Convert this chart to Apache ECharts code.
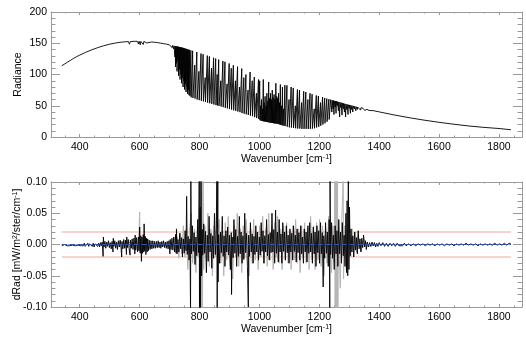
<!DOCTYPE html>
<html><head><meta charset="utf-8">
<script src="https://cdn.jsdelivr.net/npm/echarts@6/dist/echarts.min.js"></script>
<style>html,body{margin:0;padding:0;background:#fff}#c{width:526px;height:341px}</style>
</head><body><div id="c"></div>
<script>
// ---------- data ----------
const xTickLabels = [400,600,800,1000,1200,1400,1600,1800];
const xMinorTicks = [350,400,450,500,550,600,650,700,750,800,850,900,950,1000,1050,1100,1150,1200,1250,1300,1350,1400,1450,1500,1550,1600,1650,1700,1750,1800,1850];

// Radiance spectrum [wavenumber, radiance]
const radWarm = [[340,114],[350,117],[360,120],[370,123],[380,126],[390,128.7],[400,131],[420,135.5],[440,139.5],[460,143],[480,146],[500,148.5],[520,150.5],[540,151.8],[552,152.4],[555,149.5],[557,152.5],[563,152.6],[566,148.5],[569,152.7],[578,153],[582,150.5],[585,153.1],[592,153.2],[596,149],[598,153.2],[602,147.5],[604,153],[607,150],[609,153],[612,148],[614,152.8],[620,152.6],[624,150.5],[627,152.4],[640,152],[650,151.6],[660,151],[670,150.2],[680,149.4],[690,148.5],[700,147.4],[706,146.7],[708,143],[710,146.4],[713,141],[715,146]];

const radLines = [[717,145.5],[718,128],[719,145.3],[720,112],[721,145.2],[723,118],[724,145],[725,105],[726,144.8],[728,122],[729,144.5],[730,98],[731,144.3],[733,108],[734,144],[735,92],[736,143.7],[738,100],[739,143.4],[740,86],[741,143],[743,95],[744,142.8],[745,80],[746,142.5],[748,90],[749,142],[750,76],[751,141.6],[753,85],[754,141.2],[755,72],[756,141],[758,80],[759,140.4],[760,69],[761,140],[763,75],[764,139.7],[765,67],[766,139.4],[768,66],
[770,64],[771,138.6],[772,63.5],[776,63],[777,137.9],[778,62.5],[783,62],[784,115],[785,61.5],[790,60.5],[791,136],[792,60],[797,59.5],[798,105],[799,59],[804,58.5],[805,133.5],[806,58],[811,57.5],[812,132.4],[813,57],[818,56.5],[819,95],[820,56],[825,55.5],[826,130.2],[827,55],[832,54.5],[833,128.9],[834,54],[839,53.5],[840,110],[841,53],[846,52.5],[847,126.8],[848,52],[853,51.5],[854,125.5],[855,51],[858,50.8],[859,100],[860,50.5],[863,50],[864,123.8],[865,49.8],[870,49],[871,90],[872,48.8],[877,48],[878,121.5],[879,47.8],[884,47],[885,120.3],[886,46.8],[891,46],[892,85],[893,45.8],[898,45],[899,117.6],[900,44.8],
[905,44],[906,110],[907,43.8],[912,43],[913,114.8],[914,42.8],[919,42],[920,90],[921,41.8],[926,41],[927,112.6],[928,40.8],[933,40],[934,80],[935,39.8],[940,38.5],[941,109.5],[942,38.3],[947,37.5],[948,95],[949,37.3],[954,36.5],[955,100],[956,36.3],[961,35.5],[962,75],[963,35.3],[968,34.5],[969,104],[970,34.3],[975,33.5],[976,90],[977,33.3],[982,32],[983,96],[984,31.8],[989,30.5],[990,70],[991,30.3],[996,29],[997,92],[998,28.8],
[1000,27],[1001,90],[1002,27],[1004,50],[1005,26],[1007,60],[1008,26],[1010,45],[1011,25.5],[1013,92],[1014,25],[1016,55],[1017,25],[1019,65],[1020,24.5],[1022,50],[1023,24],[1025,70],[1026,24],[1028,58],[1029,23.5],[1031,88],[1032,23.5],[1034,62],[1035,23],[1037,70],[1038,23],[1040,60],[1041,22.5],[1043,75],[1044,22.5],[1046,63],[1047,22],[1049,68],[1050,22],[1052,60],[1053,21.5],[1055,86],[1056,21.5],[1058,65],[1059,21],[1061,62],[1062,21],[1064,70],[1065,20.5],[1067,55],[1068,20],[1070,84],[1071,19.5],[1074,50],[1075,19],[1077,80],[1078,18.5],[1081,45],[1082,18],
[1085,83],[1086,17.5],[1091,17],[1092,82.5],[1093,16.5],[1098,16],[1099,60],[1100,15.5],[1105,15],[1106,80],[1107,15],[1112,14.5],[1113,78.5],[1114,14.5],[1119,14],[1120,50],[1121,14],[1126,13.5],[1127,76],[1128,13.5],[1133,13.5],[1134,75],[1135,13.5],[1140,13],[1141,55],[1142,13],[1147,13],[1148,73],[1149,13],[1154,13],[1155,72],[1156,13],[1161,13],[1162,60],[1163,13],[1168,13],[1169,70],[1170,13],[1175,13.5],[1176,68.5],[1177,13.5],[1182,14],[1183,45],[1184,14],[1189,15],[1190,66.5],[1191,15.2],[1196,16],[1197,65.5],[1198,16.3],[1203,17.5],[1204,55],[1205,18],[1210,19.5],[1211,63.8],[1212,20],[1217,21.5],[1218,62.5],[1219,22],[1224,24],[1225,61.5],[1226,24.5],[1231,27],[1232,60.5],[1233,28],[1237,31],[1238,59.8],
[1242,40],[1243,59],[1246,45],[1247,58.5],[1249,36],[1250,58],[1253,48],[1254,57.5],[1256,38],[1257,57.3],[1260,50],[1261,56.6],[1264,42],[1265,56],[1268,32],[1269,55.5],[1272,47],[1273,55],[1276,35],[1277,54.5],[1280,45],[1281,53.8],[1284,40],[1285,53.3],[1288,32],[1289,52.7],[1292,44],[1293,52.2],[1296,36],[1297,51.7],[1300,46],[1301,51.3],[1304,38],[1305,50.8],[1308,44],[1309,50.3],[1312,40],[1313,49.8],[1317,45],[1318,49.2],[1322,42],[1323,48.6],[1327,44],[1328,48],[1332,46],[1333,47.4],[1338,43],[1339,46.8],[1345,44],[1346,46],[1352,42.5],[1353,45],[1358,43],[1359,44.3],[1366,42.5],[1367,43.2],[1380,42.2]];

const radTail = [[1400,40.2],[1450,35.3],[1500,30.9],[1550,27],[1600,23.5],[1650,20.4],[1700,17.6],[1750,15.4],[1800,13.6],[1840,11.6]];

// dRad residuals [wavenumber, dRad]
const dRadBlackLow = [[340,-0.002],[343,0.001],[346,-0.003],[349,0.0],[352,-0.003],[355,0.001],[358,-0.002],[361,-0.004],[364,0.0],[367,-0.002],[370,0.001],[373,-0.003],[376,-0.001],[379,-0.004],[382,0.0],[385,-0.002],[388,0.001],[391,-0.003],[394,-0.001],[397,-0.003],[400,0.001],[403,-0.002],[406,-0.004],[409,0.0],[412,-0.002],[415,0.002],[418,-0.003],[421,0.0],[424,-0.002],[427,0.002],[430,-0.003],[433,0.001],[436,-0.002],[439,0.003],[442,-0.003],[445,0.002],[448,-0.004],[451,0.001],[454,-0.002],[457,0.003],[460,-0.003],[463,0.002],[466,-0.004],[469,0.003],
[472,-0.002],[475,0.004],[478,-0.019],[479,0.012],[481,-0.004],[484,0.005],[487,-0.006],[490,0.004],[493,-0.003],[496,0.006],[499,-0.005],[502,0.003],[505,-0.007],[508,0.005],[511,-0.012],[512,0.01],[514,-0.003],[517,0.006],[520,-0.006],[523,0.004],[526,-0.008],[529,0.006],[532,-0.004],[535,0.007],[538,-0.006],[540,-0.02],[541,0.005],[544,-0.007],[547,0.008],[550,-0.006],[553,0.007],[556,-0.016],[557,0.012],[559,-0.005],[562,0.008],[565,-0.007],[568,-0.017],[569,0.007],[572,-0.006],[575,0.009],[578,-0.008],[581,0.01],[584,-0.015],[585,0.015],[587,-0.009],[590,0.011],[593,-0.012],[596,0.012],[598,-0.01],[600,0.028],[602,-0.014],[604,0.014],[606,-0.027],[608,0.012],[610,-0.014],[612,0.016],[614,-0.012],[615,0.033],[617,-0.01],[619,0.013],[621,-0.016],[623,0.01],[625,-0.012],[627,0.009],[629,-0.01],[632,0.007],[635,-0.008],[638,0.006],[641,-0.007],[644,0.006],[647,-0.006],[650,0.005],[653,-0.006],[656,0.005],[659,-0.005],[662,0.006],[665,-0.005],[668,0.004],[671,-0.006],[674,0.005],[677,-0.004],[680,0.006],[683,-0.005],[686,0.004],[689,-0.006],[692,0.005],[695,-0.007],[698,0.006],[701,-0.015],[702,0.008],[705,-0.008],[708,0.01],[711,-0.009],[714,0.012],[717,-0.012],[720,0.016],[722,-0.014],[723,0.025],[725,-0.015]];

const dRadBlackBand = [[728,0.008],[731,-0.012],[734,0.018],[737,-0.007],[740,0.011],[743,-0.02],[746,0.009],[749,-0.014],[752,0.022],[755,-0.01],[757,0.077],[759,-0.016],[762,0.013],[765,-0.025],[768,0.009],[770,-0.105],[771,0.105],[773,-0.015],[776,0.03],[779,-0.011],[782,0.019],[785,-0.032],[788,0.012],[791,-0.018],[794,0.04],[797,-0.013],[799,0.105],[800,-0.105],[802,0.06],[803,-0.105],[805,0.105],[807,-0.05],[809,0.024],[811,-0.017],[814,0.033],[817,-0.014],[820,0.021],[823,-0.045],[826,0.015],[829,-0.027],[832,0.045],[835,-0.012],[838,0.018],[841,-0.038],[844,0.014],[847,-0.022],[850,0.05],[853,-0.016],[856,0.026],[858,0.105],[859,-0.105],[861,0.105],[862,-0.06],[864,0.016],[867,-0.03],[870,0.02],[873,-0.013],[876,0.045],[879,-0.019],[882,0.014],[885,-0.035],[888,0.022],[891,-0.012],[894,0.028],[897,-0.017],[900,0.015],[903,-0.04],[906,0.019],[907,-0.08],[909,0.012],[912,-0.021],[915,0.04],[918,-0.014],[921,0.024],[924,-0.035],[927,0.013],[930,-0.019],[933,0.045],[936,-0.015],[939,0.02],[942,-0.03],[945,0.014],[948,-0.024],[951,0.05],[954,-0.013],[957,0.018],[960,-0.035],[963,-0.1],[964,0.015],[967,-0.019],[970,0.035],[973,-0.012],[976,0.017],[979,-0.03],[982,0.013],[985,-0.016],[988,0.03],[991,-0.012],[994,0.02],[997,-0.025],[1000,0.012],[1003,-0.017],[1006,0.035],[1009,-0.011],[1012,0.022],[1015,-0.03],[1018,0.014],[1021,-0.012],[1024,0.04],[1027,-0.018],[1030,0.016],[1033,-0.025],[1036,0.019],[1039,-0.013],[1042,0.05],[1045,-0.012],[1048,0.024],[1051,-0.03],[1054,0.055],[1057,-0.014],[1060,0.02],[1063,-0.028],[1066,0.04],[1069,-0.012],[1072,0.017],[1075,-0.03],[1078,0.035],[1081,-0.011],[1084,0.02],[1087,-0.025],[1090,0.03],[1093,-0.013],[1096,0.015],[1099,-0.03],[1102,0.025],[1105,-0.012],[1108,0.018],[1111,-0.025],[1114,0.03],[1117,-0.011],[1120,0.015],[1123,-0.028],[1126,0.025],[1129,-0.013],[1132,0.019],[1135,-0.025],[1138,0.03],[1141,-0.015],[1144,0.012],[1147,-0.03],[1150,0.025],[1153,-0.012],[1156,0.02],[1159,-0.028],[1162,0.03],[1165,-0.014],[1168,0.035],[1171,-0.012],[1174,0.018],[1177,-0.03],[1180,0.028],[1183,-0.015],[1186,0.02],[1189,-0.035],[1192,0.03],[1195,-0.013],[1198,0.022],[1201,-0.03],[1204,0.035],[1207,-0.015],[1210,0.019],[1213,-0.068],[1215,0.014],[1218,-0.022],[1221,0.035],[1224,-0.014],[1227,0.02],[1230,-0.035],[1233,0.04],[1235,-0.105],[1236,0.105],[1238,-0.016],[1241,0.035],[1244,-0.022],[1247,0.015],[1250,-0.04],[1253,0.03],[1256,-0.015],[1259,0.022],[1262,-0.035],[1265,0.04],[1268,-0.015],[1271,0.02],[1274,-0.03],[1277,0.035],[1280,-0.018],[1283,0.015],[1286,-0.035],[1289,0.05],[1291,-0.045],[1293,0.07],[1295,-0.05],[1297,0.105],[1299,-0.04],[1301,0.06],[1303,-0.018],[1306,0.025],[1309,-0.012],[1312,0.014],[1315,-0.02],[1318,0.02],[1321,-0.009],[1324,0.011],[1327,-0.015],[1330,0.022],[1333,-0.007],[1336,0.009],[1339,-0.012],[1342,0.01],[1345,-0.005],[1348,0.015],[1351,-0.004],[1354,0.006],[1357,-0.008],[1360,0.004]];

const dRadBlackHigh = [[1364,-0.004],[1368,0.003],[1372,-0.003],[1376,0.004],[1380,-0.002],[1384,0.003],[1388,-0.004],[1392,0.002],[1396,-0.003],[1400,0.003],[1406,-0.002],[1412,0.003],[1418,-0.003],[1424,0.002],[1430,-0.003],[1436,0.002],[1442,-0.002],[1448,0.002],[1454,-0.003],[1460,0.002],[1466,-0.002],[1472,0.001],[1478,-0.002],[1484,0.002],[1490,-0.002],[1498,0.001],[1506,-0.002],[1514,0.001],[1522,-0.002],[1530,0.001],[1538,-0.001],[1546,0.001],[1554,-0.002],[1562,0.001],[1570,-0.001],[1578,0.001],[1586,-0.002],[1594,0.001],[1602,-0.001],[1610,0.001],[1618,-0.002],[1626,0.001],[1634,-0.001],[1642,0.001],[1650,-0.002],[1658,0.001],[1666,-0.001],[1674,0.001],[1682,-0.001],[1690,0.002],[1698,-0.001],[1706,0.001],[1714,-0.001],[1722,0.001],[1730,-0.002],[1738,0.001],[1746,-0.001],[1754,0.001],[1762,-0.001],[1770,0.001],[1778,-0.001],[1786,0.002],[1794,-0.001],[1802,0.001],[1810,-0.001],[1818,0.002],[1826,-0.001],[1834,0.002],[1840,0.001]];

const dRadGrey = [[340,0],[470,0],[590,0.004],[596,-0.008],[600,0.052],[602,-0.012],[606,0.01],[612,-0.006],[700,0],[726,0.012],[731,-0.022],[736,0.018],[741,-0.015],[746,0.03],[751,-0.02],[756,0.025],[761,-0.04],[766,0.02],[772,0.05],[777,-0.03],[783,0.025],[788,-0.045],[793,0.03],[797,-0.02],[801,0.105],[802,-0.105],[804,0.105],[806,-0.105],[808,0.105],[810,-0.105],[812,0.105],[814,-0.04],[818,0.03],[823,-0.025],[828,0.05],[833,-0.035],[838,0.025],[843,-0.05],[848,0.03],[853,-0.02],[866,0.04],[871,-0.03],[876,0.02],[881,-0.05],[886,0.035],[891,-0.025],[896,0.045],[901,-0.03],[911,-0.055],[916,0.03],[921,-0.02],[926,0.05],[931,-0.035],[936,0.025],[941,-0.045],[946,0.03],[951,-0.02],[956,0.04],[966,-0.05],[971,0.025],[976,-0.03],[981,0.04],[986,-0.025],[991,0.02],[996,-0.04],[1001,0.03],[1006,-0.02],[1011,0.045],[1016,-0.03],[1021,0.025],[1026,-0.035],[1031,0.05],[1036,-0.025],[1041,0.03],[1046,-0.04],[1051,0.035],[1056,-0.02],[1061,0.045],[1066,-0.03],[1071,0.025],[1076,-0.04],[1081,0.03],[1086,-0.025],[1091,0.035],[1096,-0.03],[1101,0.02],[1106,-0.04],[1111,0.03],[1116,-0.025],[1121,0.04],[1126,-0.03],[1131,0.025],[1136,-0.045],[1141,0.03],[1146,-0.02],[1151,0.035],[1156,-0.03],[1161,0.025],[1166,-0.04],[1171,0.045],[1176,-0.025],[1181,0.03],[1186,-0.04],[1191,0.035],[1196,-0.025],[1201,0.04],[1206,-0.035],[1211,0.03],[1216,-0.05],[1221,0.025],[1226,-0.03],[1231,0.045],[1241,-0.045],[1246,0.03],[1250,-0.03],[1252,0.105],[1253,-0.105],[1255,0.105],[1256,-0.105],[1258,0.105],[1259,-0.105],[1261,0.105],[1262,-0.105],[1264,0.03],[1270,-0.07],[1275,0.04],[1280,0.105],[1281,-0.055],[1285,0.03],[1290,-0.04],[1300,0.035],[1305,-0.02],[1310,0.025],[1315,-0.018],[1320,0.02],[1325,-0.012],[1330,0.015],[1340,-0.01],[1350,0.008],[1360,-0.003],[1400,0],[1840,0]];

const xSpan = [340, 1840];
const limitLevels = [0.02, -0.02];
const meanLevel = 0;

// ---------- chart ----------
const FONT = '"Liberation Sans", Arial, Helvetica, sans-serif';
const AX = '#9a9a9a';
const XMIN = 304, XMAX = 1877;
const txt = {color:'#000', fontSize:10.5, fontFamily:FONT};
const richSup = {sup:{fontSize:7, fontFamily:FONT, color:'#000', fill:'#000', verticalAlign:'top', lineHeight:9}};

function xAx(g, pos, major, label) {
  return {
    type:'value', gridIndex:g, position:pos, min:XMIN, max:XMAX,
    axisLine:{show:major, onZero:false, lineStyle:{color:AX, width:1}},
    axisTick:{show:true, inside:true, length: major ? 3 : 1.5, customValues: major ? xTickLabels : xMinorTicks, lineStyle:{color:AX}},
    axisLabel: label ? Object.assign({show:true, customValues:xTickLabels, margin:5, formatter: v => String(v)}, txt) : {show:false},
    splitLine:{show:false},
    name: label ? 'Wavenumber [cm{sup|-1}]' : '',
    nameLocation:'middle', nameGap:16,
    nameTextStyle: Object.assign({rich:richSup}, txt)
  };
}
function yAx(g, pos, min, max, interval, label, fmt) {
  return {
    type:'value', gridIndex:g, position:pos, min:min, max:max, interval:interval,
    axisLine:{show:true, onZero:false, lineStyle:{color:AX, width:1}},
    axisTick:{show:true, inside:true, length:9, lineStyle:{color:AX}},
    minorTick:{show:true, splitNumber:5, length:4.5, lineStyle:{color:AX}},
    axisLabel: label ? Object.assign({show:true, margin:4, formatter:fmt}, txt) : {show:false},
    splitLine:{show:false}
  };
}
function yTitle(text, x, y) {
  return {
    type:'text', x:x, y:y, rotation:Math.PI/2, silent:true,
    style:{text:text, fill:'#000', fontSize:10.5, fontFamily:FONT, align:'center', verticalAlign:'middle', rich:richSup}
  };
}
function hLine(level){ return [[xSpan[0], level],[xSpan[1], level]]; }

const chart = echarts.init(document.getElementById('c'), null, {renderer:'canvas'});
chart.setOption({
  animation:false,
  backgroundColor:'#fff',
  grid:[
    {left:51, right:4, top:12, height:125},
    {left:51, right:4, top:182, height:125}
  ],
  graphic:[
    yTitle('Radiance', 18, 74.5),
    yTitle('dRad [mW/m{sup|2}/ster/cm{sup|-1}]', 17, 244.5)
  ],
  xAxis:[
    xAx(0,'bottom',true,true), xAx(0,'bottom',false,false), xAx(0,'top',true,false), xAx(0,'top',false,false),
    xAx(1,'bottom',true,true), xAx(1,'bottom',false,false), xAx(1,'top',true,false), xAx(1,'top',false,false)
  ],
  yAxis:[
    yAx(0,'left',0,200,50,true, v => String(v)),
    yAx(0,'right',0,200,50,false,null),
    yAx(1,'left',-0.1,0.1,0.05,true, v => (Math.abs(v)<1e-9?0:v).toFixed(2)),
    yAx(1,'right',-0.1,0.1,0.05,false,null)
  ],
  series:[
    {type:'line', xAxisIndex:0, yAxisIndex:0, data: radWarm.concat(radLines, radTail), showSymbol:false, symbol:'none', sampling:null, lineStyle:{color:'#000', width:0.9}, silent:true, z:3},
    {type:'line', xAxisIndex:4, yAxisIndex:2, data: hLine(limitLevels[0]), showSymbol:false, symbol:'none', lineStyle:{color:'#f4a898', width:1}, silent:true, z:1},
    {type:'line', xAxisIndex:4, yAxisIndex:2, data: hLine(limitLevels[1]), showSymbol:false, symbol:'none', lineStyle:{color:'#f4a898', width:1}, silent:true, z:1},
    {type:'line', xAxisIndex:4, yAxisIndex:2, data: dRadGrey, showSymbol:false, symbol:'none', lineStyle:{color:'#b4b4b4', width:1}, silent:true, z:2},
    {type:'line', xAxisIndex:4, yAxisIndex:2, data: dRadBlackLow.concat(dRadBlackBand, dRadBlackHigh), showSymbol:false, symbol:'none', lineStyle:{color:'#000', width:0.9}, silent:true, z:3},
    {type:'line', xAxisIndex:4, yAxisIndex:2, data: hLine(meanLevel), showSymbol:false, symbol:'none', lineStyle:{color:'#2d55b5', width:1.2, type:[5,3]}, silent:true, z:4}
  ]
});
</script>
</body></html>
